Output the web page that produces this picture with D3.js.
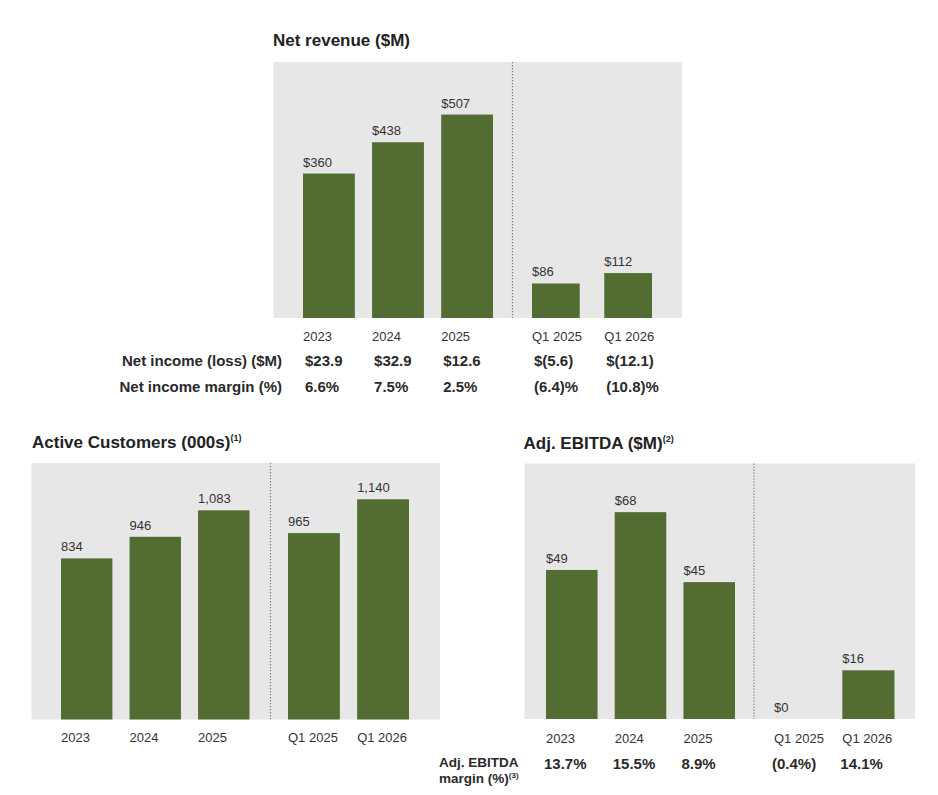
<!DOCTYPE html>
<html>
<head>
<meta charset="utf-8">
<script src="https://cdn.jsdelivr.net/npm/d3@7"></script>
<style>
  body { margin: 0; background: #fff; }
  text { font-family: "Liberation Sans", Arial, sans-serif; }
</style>
</head>
<body>
<div id="chart"></div>
<script>
// categories
var annualCats = ["2023", "2024", "2025"];
var quarterCats = ["Q1 2025", "Q1 2026"];

// series values (annual then quarter)
var revenue = [360, 438, 507, 86, 112];
var netIncome = [23.9, 32.9, 12.6, -5.6, -12.1];
var netIncomeMargin = [6.6, 7.5, 2.5, -6.4, -10.8];
var customers = [834, 946, 1083, 965, 1140];
var ebitda = [49, 68, 45, 0, 16];
var ebitdaMargin = [13.7, 15.5, 8.9, -0.4, 14.1];

var green = "#536c32";
var panelFill = "#e7e7e8";
var f1 = d3.format(".1f");

var svg = d3.select("#chart").append("svg")
  .attr("width", 938)
  .attr("height", 795);

function drawChart(cfg) {
  var g = svg.append("g");
  var cats = annualCats.concat(quarterCats);
  var data = cats.map(function (c, i) {
    return { cat: c, value: cfg.values[i], annual: i < annualCats.length };
  });

  // two band scales, one each side of the dotted divider
  var xA = d3.scaleBand().domain(annualCats).range(cfg.annualRange).paddingInner(0.25).paddingOuter(0);
  var xQ = d3.scaleBand().domain(quarterCats).range(cfg.quarterRange).paddingInner(cfg.qPad).paddingOuter(0);
  var xpos = function (d) { return d.annual ? xA(d.cat) : xQ(d.cat); };
  var bw = function (d) { return d.annual ? xA.bandwidth() : xQ.bandwidth(); };

  var y = d3.scaleLinear().domain([0, cfg.max]).range([cfg.panel.y1, cfg.panel.y0]);

  g.append("rect")
    .attr("x", cfg.panel.x0)
    .attr("y", cfg.panel.y0)
    .attr("width", cfg.panel.x1 - cfg.panel.x0)
    .attr("height", cfg.panel.y1 - cfg.panel.y0)
    .style("fill", panelFill);

  g.append("line")
    .attr("x1", cfg.divider).attr("x2", cfg.divider)
    .attr("y1", cfg.panel.y0).attr("y2", cfg.panel.y1)
    .style("stroke", "#7a7a7a")
    .style("stroke-width", 1.2)
    .style("stroke-dasharray", "1.2,1.8");

  g.selectAll(".bar")
    .data(data)
    .enter().append("rect")
    .attr("class", "bar")
    .attr("x", xpos)
    .attr("y", function (d) { return y(d.value); })
    .attr("width", bw)
    .attr("height", function (d) { return y(0) - y(d.value); })
    .style("fill", green);

  g.selectAll(".val")
    .data(data)
    .enter().append("text")
    .attr("class", "val")
    .attr("x", xpos)
    .attr("y", function (d) { return y(d.value) - 7; })
    .style("font-size", "13px")
    .style("fill", "#333")
    .text(function (d) { return cfg.fmt(d.value); });

  g.selectAll(".cat")
    .data(data)
    .enter().append("text")
    .attr("class", "cat")
    .attr("x", xpos)
    .attr("y", cfg.catY)
    .style("font-size", "13px")
    .style("fill", "#333")
    .text(function (d) { return d.cat; });

  // title with optional superscript
  var t = g.append("text")
    .attr("x", cfg.titleX)
    .attr("y", cfg.titleY)
    .style("font-size", "17px")
    .style("font-weight", "bold")
    .style("fill", "#222")
    .text(cfg.title);
  if (cfg.sup) {
    t.append("tspan")
      .attr("dy", -7)
      .style("font-size", "9px")
      .text(cfg.sup);
  }

  // rows of figures beneath the axis
  (cfg.rows || []).forEach(function (r) {
    g.selectAll(null)
      .data(data)
      .enter().append("text")
      .attr("x", function (d) { return xpos(d) + (r.dx || 0); })
      .attr("y", r.y)
      .style("font-size", "15px")
      .style("font-weight", "bold")
      .style("fill", "#2a2a2a")
      .text(function (d, i) { return r.fmt(r.values[i]); });
  });

  return g;
}

// Net revenue
var revChart = drawChart({
  values: revenue,
  max: 638,
  panel: { x0: 273.5, x1: 682, y0: 62, y1: 318 },
  divider: 512.5,
  annualRange: [303, 493],
  quarterRange: [532, 652],
  qPad: 0.34,
  fmt: function (v) { return "$" + v; },
  catY: 341,
  title: "Net revenue ($M)",
  titleX: 273,
  titleY: 46,
  rows: [
    { values: netIncome, y: 366, dx: 2, fmt: function (v) { return v < 0 ? "$(" + f1(-v) + ")" : "$" + f1(v); } },
    { values: netIncomeMargin, y: 392, dx: 2, fmt: function (v) { return v < 0 ? "(" + f1(-v) + ")%" : f1(v) + "%"; } }
  ]
});
revChart.selectAll(null)
  .data(["Net income (loss) ($M)", "Net income margin (%)"])
  .enter().append("text")
  .attr("x", 282)
  .attr("y", function (d, i) { return i === 0 ? 366 : 392; })
  .attr("text-anchor", "end")
  .style("font-size", "15px")
  .style("font-weight", "bold")
  .style("fill", "#2a2a2a")
  .text(function (d) { return d; });

// Active customers
drawChart({
  values: customers,
  max: 1328,
  panel: { x0: 31.5, x1: 440, y0: 463, y1: 719.5 },
  divider: 270.5,
  annualRange: [61, 249.5],
  quarterRange: [288, 409],
  qPad: 0.25,
  fmt: d3.format(","),
  catY: 741.5,
  title: "Active Customers (000s)",
  sup: "(1)",
  titleX: 32,
  titleY: 448
});

// Adj. EBITDA
var eb = drawChart({
  values: ebitda,
  max: 84,
  panel: { x0: 524.5, x1: 915, y0: 463.5, y1: 719 },
  divider: 754,
  annualRange: [546, 735],
  quarterRange: [774, 894.5],
  qPad: 0.236,
  fmt: function (v) { return "$" + v; },
  catY: 743,
  title: "Adj. EBITDA ($M)",
  sup: "(2)",
  titleX: 523.5,
  titleY: 448.5,
  rows: [
    { values: ebitdaMargin, y: 769, dx: -2, fmt: function (v) { return v < 0 ? "(" + f1(-v) + "%)" : f1(v) + "%"; } }
  ]
});
var lab = eb.append("text")
  .attr("x", 439)
  .style("font-size", "13.5px")
  .style("font-weight", "bold")
  .style("fill", "#2a2a2a");
lab.append("tspan").attr("x", 439).attr("y", 766.5).text("Adj. EBITDA");
lab.append("tspan").attr("x", 439).attr("y", 783).text("margin (%)");
lab.append("tspan").attr("dy", -5).style("font-size", "8px").text("(3)");
</script>
</body>
</html>
